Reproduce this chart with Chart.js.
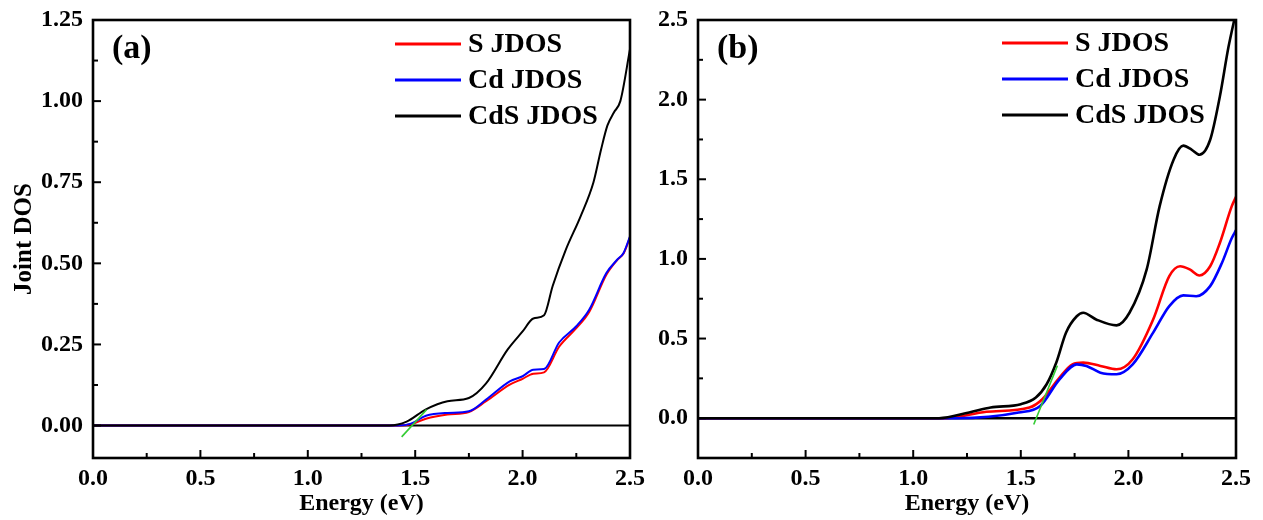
<!DOCTYPE html>
<html>
<head>
<meta charset="utf-8">
<script src="https://cdn.jsdelivr.net/npm/chart.js@4.4.0/dist/chart.umd.min.js"></script>
<style>
  body { margin: 0; background: #fff; }
  #wrap { position: relative; width: 1263px; height: 520px; overflow: hidden; }
  #chartA { position: absolute; left: 0; top: 0; }
  #chartB { position: absolute; left: 640px; top: 0; }
</style>
</head>
<body>
<div id="wrap">
  <canvas id="chartA" width="660" height="520"></canvas>
  <canvas id="chartB" width="623" height="520"></canvas>
</div>
<script>
// panel (a)
const aCdsE = [0, 1.38, 1.46, 1.55, 1.65, 1.75, 1.83, 1.93, 2.00, 2.05, 2.10, 2.14, 2.20, 2.27, 2.33, 2.365, 2.395, 2.425, 2.455, 2.5];
const aCds  = [0, 0, 0.012, 0.05, 0.075, 0.085, 0.13, 0.234, 0.29, 0.33, 0.34, 0.43, 0.54, 0.645, 0.75, 0.85, 0.925, 0.965, 1.0, 1.16];
const aE    = [0, 1.42, 1.48, 1.55, 1.65, 1.75, 1.83, 1.94, 2.00, 2.05, 2.10, 2.17, 2.25, 2.31, 2.39, 2.44, 2.47, 2.5];
const aS    = [0, 0, 0.004, 0.021, 0.034, 0.042, 0.075, 0.126, 0.144, 0.16, 0.164, 0.243, 0.3, 0.35, 0.465, 0.51, 0.53, 0.58];
const aCd   = [0, 0, 0.006, 0.03, 0.039, 0.044, 0.08, 0.136, 0.152, 0.172, 0.174, 0.256, 0.306, 0.357, 0.47, 0.511, 0.532, 0.583];
const aFitE = [1.437, 1.553];
const aFit  = [-0.035, 0.049];

// panel (b)
const bCdsE = [0, 1.12, 1.26, 1.36, 1.50, 1.57, 1.62, 1.665, 1.71, 1.76, 1.79, 1.85, 1.945, 2.005, 2.085, 2.145, 2.21, 2.255, 2.295, 2.33, 2.38, 2.425, 2.465, 2.5];
const bCds  = [0, 0, 0.036, 0.067, 0.088, 0.13, 0.213, 0.35, 0.537, 0.64, 0.662, 0.62, 0.583, 0.662, 0.934, 1.33, 1.623, 1.711, 1.685, 1.654, 1.748, 2.02, 2.33, 2.55];
const bSE   = [0, 1.15, 1.34, 1.54, 1.60, 1.68, 1.74, 1.79, 1.87, 1.945, 2.02, 2.115, 2.19, 2.24, 2.285, 2.33, 2.38, 2.425, 2.48, 2.5];
const bS    = [0, 0, 0.04, 0.067, 0.119, 0.255, 0.338, 0.349, 0.328, 0.307, 0.37, 0.62, 0.892, 0.954, 0.934, 0.896, 0.954, 1.10, 1.33, 1.39];
const bCdE  = [0, 1.20, 1.49, 1.59, 1.68, 1.76, 1.805, 1.87, 1.945, 2.02, 2.115, 2.19, 2.255, 2.315, 2.38, 2.435, 2.48, 2.5];
const bCd   = [0, 0, 0.036, 0.077, 0.244, 0.338, 0.328, 0.286, 0.276, 0.338, 0.537, 0.704, 0.771, 0.766, 0.829, 0.976, 1.13, 1.18];
const bFitE = [1.56, 1.67];
const bFit  = [-0.04, 0.33];

const xTicks = [0, 2.5, 0.5];

const pts = (xs, ys) => xs.map((x, i) => ({ x: x, y: ys[i] }));

Chart.defaults.font.family = "'Liberation Serif', 'Times New Roman', serif";
Chart.defaults.font.weight = "bold";
Chart.defaults.color = "#000";

// box frame, inward ticks, panel tag and legend
const framePlugin = {
  id: "frame",
  afterDatasetsDraw(chart, args, opts) {
    const { ctx, chartArea: a, scales: { x, y } } = chart;
    ctx.save();
    ctx.strokeStyle = "#000";
    ctx.lineWidth = 2.6;
    ctx.strokeRect(a.left, a.top, a.width, a.height);

    ctx.lineWidth = 2;
    const tick = (scale, step, major, horiz) => {
      let v = Math.ceil(scale.min / step - 1e-9) * step;
      for (; v <= scale.max + 1e-9; v += step) {
        const isMajor = Math.abs(v / major - Math.round(v / major)) < 1e-6;
        const len = isMajor ? 8 : 5;
        const p = scale.getPixelForValue(v);
        ctx.beginPath();
        if (horiz) { ctx.moveTo(p, a.bottom); ctx.lineTo(p, a.bottom - len); }
        else { ctx.moveTo(a.left, p); ctx.lineTo(a.left + len, p); }
        ctx.stroke();
      }
    };
    tick(x, 0.25, 0.5, true);
    tick(y, opts.yMinor, opts.yMinor * 2, false);

    ctx.fillStyle = "#000";
    ctx.textBaseline = "alphabetic";
    ctx.font = "bold 34px 'Liberation Serif'";
    ctx.fillText(opts.tag, a.left + 19, a.top + 38);

    ctx.font = "bold 28px 'Liberation Serif'";
    ctx.textBaseline = "middle";
    ctx.lineWidth = 3;
    chart.data.datasets.filter(d => d.label).forEach((d, i) => {
      const lx = a.left + opts.legX, ly = a.top + opts.legY + i * 36;
      ctx.strokeStyle = d.borderColor;
      ctx.beginPath(); ctx.moveTo(lx, ly); ctx.lineTo(lx + 66, ly); ctx.stroke();
      ctx.fillText(d.label, lx + 73, ly + 1);
    });
    ctx.restore();
  }
};

function makeChart(el, sets, yMin, yMax, yStep, digits, yTitle, yWidth, padRight, opts, lw) {
  const datasets = [
    { label: "S JDOS", data: pts(sets[0][0], sets[0][1]), borderColor: "#ff0000", order: 3 },
    { label: "Cd JDOS", data: pts(sets[1][0], sets[1][1]), borderColor: "#0000ff", order: 2 },
    { label: "CdS JDOS", data: pts(sets[2][0], sets[2][1]), borderColor: "#000000", order: 1 },
    { data: pts([xTicks[0], xTicks[1]], [0, 0]), borderColor: "#000000", order: 4, tension: 0 },
    { data: pts(sets[3][0], sets[3][1]), borderColor: "#33cc33", borderWidth: 1.6, order: 0, tension: 0 }
  ];
  datasets.forEach(d => {
    d.pointRadius = 0;
    if (d.borderWidth === undefined) d.borderWidth = lw;
    if (d.tension === undefined) { d.tension = 0.4; d.cubicInterpolationMode = "monotone"; }
  });
  return new Chart(el, {
    type: "line",
    data: { datasets: datasets },
    options: {
      responsive: false,
      animation: false,
      layout: { padding: { top: 20, right: padRight, left: 0, bottom: 0 } },
      plugins: { legend: { display: false }, tooltip: { enabled: false }, frame: opts },
      scales: {
        x: {
          type: "linear", min: xTicks[0], max: xTicks[1],
          grid: { display: false, drawTicks: false }, border: { display: false },
          ticks: { stepSize: xTicks[2], autoSkip: false, padding: 6, font: { size: 24 },
                   callback: v => v.toFixed(1) },
          title: { display: true, text: "Energy (eV)", font: { size: 24 }, padding: { top: 2, bottom: 2 } },
          afterFit: s => { s.height = 62; s.paddingLeft = 0; s.paddingRight = 0; }
        },
        y: {
          min: yMin, max: yMax,
          grid: { display: false, drawTicks: false }, border: { display: false },
          ticks: { stepSize: yStep, includeBounds: false, autoSkip: false, padding: 10, font: { size: 24 },
                   callback: v => v.toFixed(digits) },
          title: { display: !!yTitle, text: yTitle, font: { size: 25 }, padding: { top: 10, bottom: 4 } },
          afterFit: s => { s.width = yWidth; s.paddingTop = 0; s.paddingBottom = 0; }
        }
      }
    },
    plugins: [framePlugin]
  });
}

makeChart(document.getElementById("chartA"),
  [[aE, aS], [aE, aCd], [aCdsE, aCds], [aFitE, aFit]],
  -0.1, 1.25, 0.25, 2, "Joint DOS", 93, 30,
  { tag: "(a)", yMinor: 0.125, legX: 302, legY: 24 }, 2);

makeChart(document.getElementById("chartB"),
  [[bSE, bS], [bCdE, bCd], [bCdsE, bCds], [bFitE, bFit]],
  -0.25, 2.5, 0.5, 1, "", 58, 27,
  { tag: "(b)", yMinor: 0.25, legX: 304, legY: 23 }, 2.6);
</script>
</body>
</html>
